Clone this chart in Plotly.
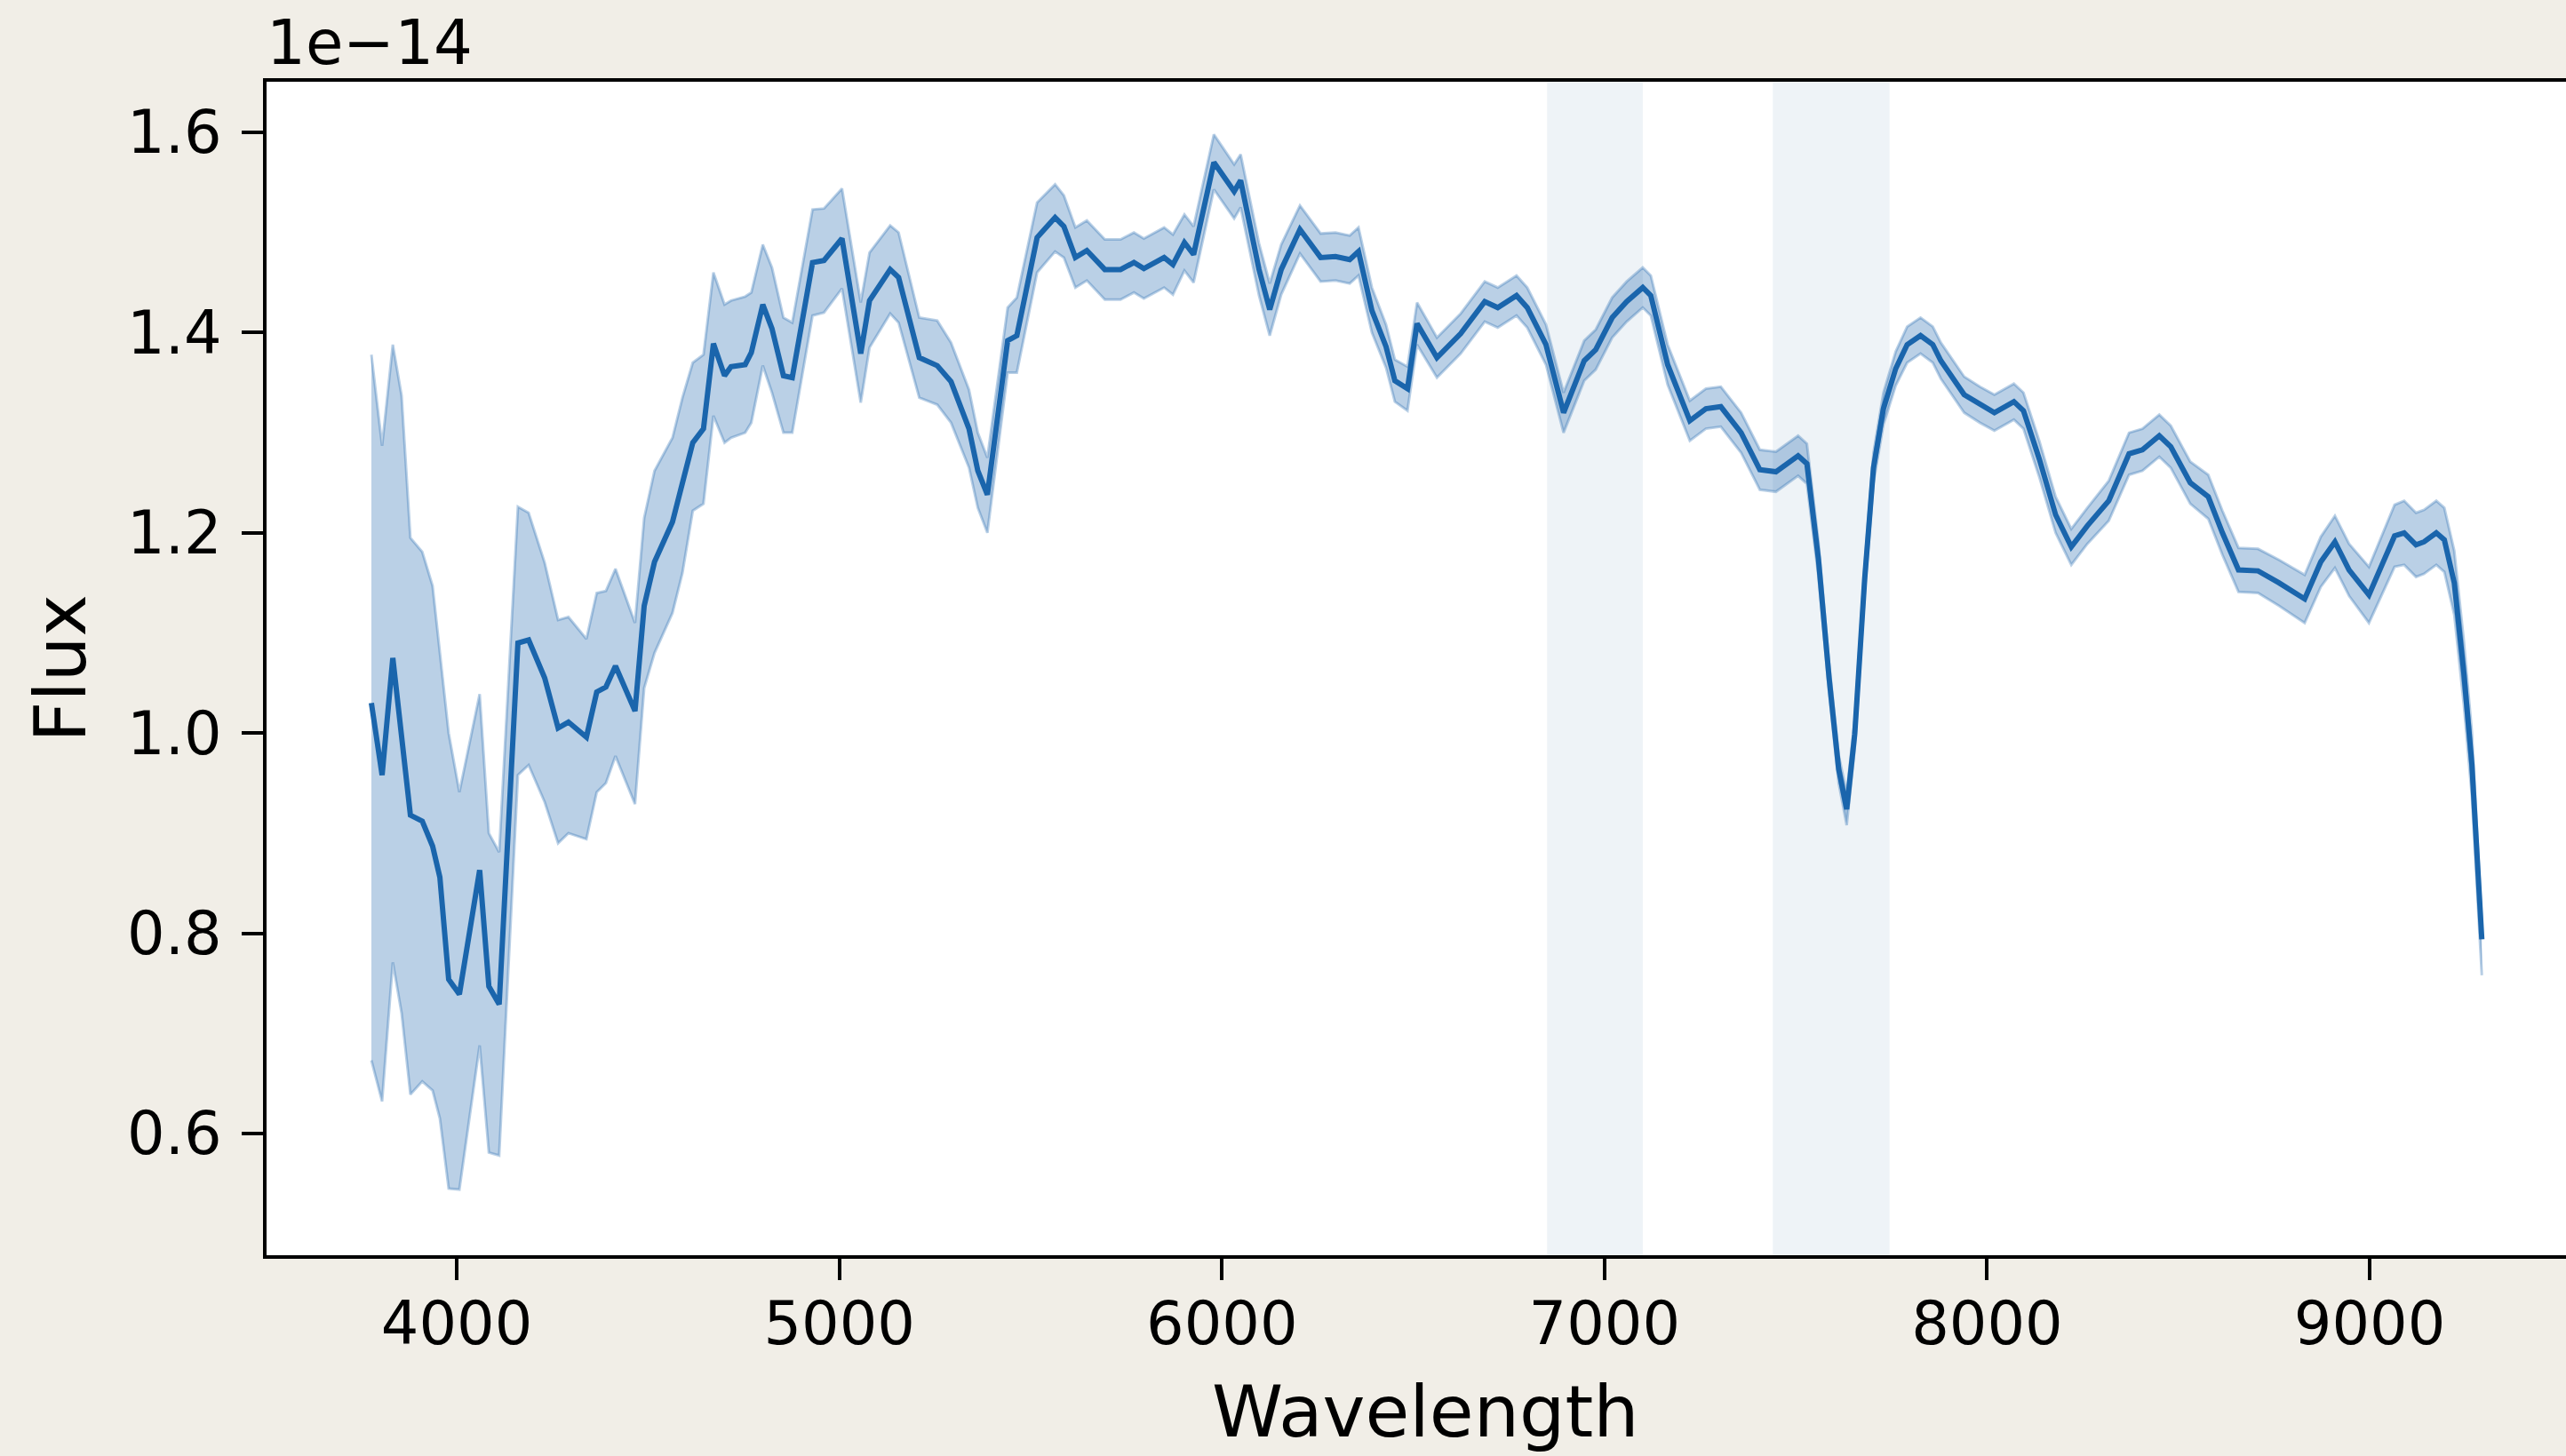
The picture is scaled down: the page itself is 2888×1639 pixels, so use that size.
import plotly.graph_objects as go

# ---- data (flux in units of 1e-14) ----
wavelength = [3777, 3805, 3833, 3856, 3879, 3910, 3937, 3956, 3979, 4007, 4060, 4084, 4111,
              4160, 4188, 4230, 4265, 4292, 4339, 4366, 4390, 4415, 4466, 4490, 4517, 4564,
              4590, 4617, 4645, 4671, 4700, 4717, 4754, 4770, 4800, 4824, 4854, 4877, 4930,
              4960, 5007, 5056, 5079, 5133, 5155, 5209, 5256, 5292, 5339, 5362, 5387, 5440,
              5464, 5517, 5564, 5587, 5617, 5647, 5694, 5735, 5770, 5796, 5849, 5872, 5902,
              5926, 5979, 6002, 6032, 6049, 6097, 6125, 6155, 6204, 6258, 6297, 6334, 6357,
              6392, 6429, 6452, 6485, 6510, 6562, 6624, 6687, 6721, 6770, 6798, 6847, 6893,
              6947, 6977, 7020, 7058, 7100, 7121, 7165, 7223, 7265, 7304, 7357, 7406, 7448,
              7506, 7529, 7559, 7587, 7612, 7633, 7654, 7680, 7703, 7729, 7761, 7791, 7826,
              7858, 7879, 7940, 7981, 8019, 8070, 8095, 8137, 8179, 8220, 8262, 8318, 8371,
              8406, 8450, 8480, 8531, 8578, 8615, 8657, 8708, 8763, 8830, 8872, 8909, 8946,
              8998, 9032, 9065, 9090, 9121, 9142, 9174, 9195, 9221, 9246, 9267, 9293]

flux = [1.030, 0.958, 1.075, 1.000, 0.918, 0.912, 0.887, 0.856, 0.754, 0.739, 0.863, 0.747, 0.729,
        1.090, 1.093, 1.055, 1.005, 1.011, 0.996, 1.041, 1.046, 1.067, 1.022, 1.127, 1.171, 1.211,
        1.250, 1.290, 1.304, 1.389, 1.357, 1.366, 1.368, 1.380, 1.428, 1.404, 1.357, 1.355, 1.470,
        1.472, 1.494, 1.379, 1.432, 1.463, 1.455, 1.375, 1.367, 1.351, 1.304, 1.262, 1.238, 1.392,
        1.397, 1.495, 1.515, 1.506, 1.475, 1.482, 1.463, 1.463, 1.470, 1.464, 1.475, 1.468, 1.490,
        1.478, 1.570, 1.557, 1.541, 1.552, 1.463, 1.423, 1.463, 1.503, 1.475, 1.476, 1.473, 1.481,
        1.422, 1.386, 1.352, 1.344, 1.409, 1.375, 1.399, 1.431, 1.425, 1.437, 1.425, 1.388, 1.320,
        1.372, 1.383, 1.415, 1.431, 1.445, 1.437, 1.368, 1.312, 1.324, 1.326, 1.300, 1.263, 1.261,
        1.277, 1.269, 1.174, 1.055, 0.964, 0.924, 0.999, 1.154, 1.265, 1.324, 1.364, 1.388, 1.397,
        1.388, 1.372, 1.338, 1.328, 1.320, 1.331, 1.322, 1.273, 1.218, 1.186, 1.207, 1.232, 1.279,
        1.283, 1.297, 1.286, 1.250, 1.236, 1.200, 1.163, 1.162, 1.150, 1.134, 1.171, 1.191, 1.163,
        1.138, 1.168, 1.197, 1.200, 1.188, 1.191, 1.200, 1.193, 1.150, 1.060, 0.969, 0.794]

flux_lo = [0.673, 0.632, 0.771, 0.720, 0.639, 0.652, 0.643, 0.615, 0.545, 0.544, 0.688, 0.581, 0.578,
           0.958, 0.968, 0.931, 0.890, 0.900, 0.894, 0.941, 0.950, 0.977, 0.929, 1.045, 1.080, 1.120,
           1.160, 1.222, 1.229, 1.317, 1.290, 1.295, 1.300, 1.310, 1.367, 1.340, 1.300, 1.300, 1.417,
           1.420, 1.444, 1.330, 1.385, 1.419, 1.410, 1.335, 1.328, 1.310, 1.265, 1.225, 1.200, 1.360,
           1.360, 1.460, 1.481, 1.475, 1.445, 1.452, 1.433, 1.433, 1.440, 1.434, 1.445, 1.438, 1.462,
           1.450, 1.543, 1.530, 1.514, 1.525, 1.437, 1.397, 1.438, 1.479, 1.451, 1.452, 1.449, 1.457,
           1.400, 1.365, 1.331, 1.322, 1.388, 1.355, 1.379, 1.411, 1.405, 1.417, 1.405, 1.368, 1.300,
           1.352, 1.363, 1.395, 1.411, 1.425, 1.417, 1.348, 1.292, 1.304, 1.306, 1.280, 1.243, 1.241,
           1.257, 1.249, 1.157, 1.040, 0.950, 0.908, 0.985, 1.140, 1.250, 1.308, 1.347, 1.370, 1.379,
           1.370, 1.354, 1.320, 1.310, 1.302, 1.313, 1.304, 1.255, 1.200, 1.168, 1.189, 1.212, 1.258,
           1.262, 1.276, 1.265, 1.229, 1.214, 1.178, 1.141, 1.140, 1.127, 1.110, 1.146, 1.165, 1.137,
           1.110, 1.138, 1.166, 1.168, 1.156, 1.159, 1.168, 1.161, 1.118, 1.028, 0.937, 0.758]

flux_hi = [1.378, 1.287, 1.388, 1.337, 1.195, 1.181, 1.147, 1.079, 1.000, 0.941, 1.039, 0.900, 0.881,
           1.226, 1.220, 1.170, 1.113, 1.116, 1.094, 1.140, 1.142, 1.164, 1.110, 1.215, 1.262, 1.295,
           1.335, 1.370, 1.378, 1.460, 1.428, 1.432, 1.436, 1.440, 1.488, 1.465, 1.415, 1.410, 1.523,
           1.524, 1.544, 1.430, 1.480, 1.507, 1.500, 1.415, 1.412, 1.390, 1.343, 1.300, 1.275, 1.425,
           1.435, 1.530, 1.548, 1.537, 1.505, 1.512, 1.493, 1.493, 1.500, 1.494, 1.505, 1.498, 1.518,
           1.506, 1.598, 1.585, 1.568, 1.578, 1.489, 1.449, 1.488, 1.527, 1.499, 1.500, 1.497, 1.505,
           1.445, 1.408, 1.373, 1.366, 1.430, 1.395, 1.419, 1.451, 1.445, 1.457, 1.445, 1.408, 1.340,
           1.392, 1.403, 1.435, 1.451, 1.465, 1.457, 1.388, 1.332, 1.344, 1.346, 1.320, 1.283, 1.281,
           1.297, 1.289, 1.191, 1.070, 0.978, 0.940, 1.013, 1.168, 1.280, 1.340, 1.381, 1.406, 1.415,
           1.406, 1.390, 1.356, 1.346, 1.338, 1.349, 1.340, 1.291, 1.236, 1.204, 1.225, 1.252, 1.300,
           1.304, 1.318, 1.307, 1.271, 1.258, 1.222, 1.185, 1.184, 1.173, 1.158, 1.196, 1.217, 1.189,
           1.166, 1.198, 1.228, 1.232, 1.220, 1.223, 1.232, 1.225, 1.182, 1.092, 1.001, 0.810]

telluric_bands = [(6850, 7100), (7440, 7745)]

x_ticks = [4000, 5000, 6000, 7000, 8000, 9000]
y_ticks = [0.6, 0.8, 1.0, 1.2, 1.4, 1.6]
offset_label = "1e\u221214"
x_title = "Wavelength"
y_title = "Flux"

# ---- style ----
W, H = 2888, 1639
ML, MT, MB, MR = 300, 92, 226, 0
FONT = "DejaVu Sans"
LINE = "#1a65ac"
BAND = "rgba(26,101,172,0.3)"
SPAN = "#eef3f7"
PAPER = "#f1eee7"

fig = go.Figure()

fig.add_trace(go.Scatter(x=wavelength, y=flux_hi, mode="lines",
                         line=dict(color=BAND, width=3), hoverinfo="skip", showlegend=False))
fig.add_trace(go.Scatter(x=wavelength, y=flux_lo, mode="lines", fill="tonexty", fillcolor=BAND,
                         line=dict(color=BAND, width=3), hoverinfo="skip", showlegend=False))
fig.add_trace(go.Scatter(x=wavelength, y=flux, mode="lines",
                         line=dict(color=LINE, width=6), showlegend=False))

for x0, x1 in telluric_bands:
    fig.add_shape(type="rect", xref="x", yref="paper", x0=x0, x1=x1, y0=0, y1=1,
                  fillcolor=SPAN, line=dict(width=0), layer="below")

axis_common = dict(showgrid=False, zeroline=False, showline=True, linecolor="black", linewidth=4,
                   ticks="outside", ticklen=24, tickwidth=4, tickcolor="black",
                   tickfont=dict(family=FONT, size=67, color="black"))

fig.update_layout(
    width=W, height=H,
    margin=dict(l=ML, r=MR, t=MT, b=MB, pad=0),
    paper_bgcolor=PAPER, plot_bgcolor="white",
    font=dict(family=FONT, color="black"),
    xaxis=dict(range=[3503, 9513], tickvals=x_ticks, ticktext=[str(v) for v in x_ticks],
               mirror=True, ticklabelstandoff=-8, **axis_common),
    yaxis=dict(range=[0.4784, 1.6506], tickvals=y_ticks, ticktext=[f"{v:.1f}" for v in y_ticks],
               mirror=False, ticklabelstandoff=9, **axis_common),
    showlegend=False,
    hovermode=False,
)

fig.add_annotation(text=offset_label, xref="paper", yref="paper", x=0, y=1, xanchor="left",
                   yanchor="bottom", yshift=2, xshift=-2, showarrow=False,
                   font=dict(family=FONT, size=69, color="black"))
fig.add_annotation(text=x_title, xref="paper", yref="paper", x=(1604 - ML) / (W - ML),
                   y=(H - MB - 1589) / (H - MT - MB), xanchor="center", yanchor="middle",
                   showarrow=False, font=dict(family=FONT, size=81, color="black"))
fig.add_annotation(text=y_title, xref="paper", yref="paper", x=(68 - ML) / (W - ML),
                   y=0.5, xanchor="center", yanchor="middle", textangle=-90,
                   showarrow=False, font=dict(family=FONT, size=80, color="black"))

fig.write_html("out.html", config={"displayModeBar": False, "responsive": False},
               post_script="document.body.style.margin='0';document.body.style.overflow='hidden';")
